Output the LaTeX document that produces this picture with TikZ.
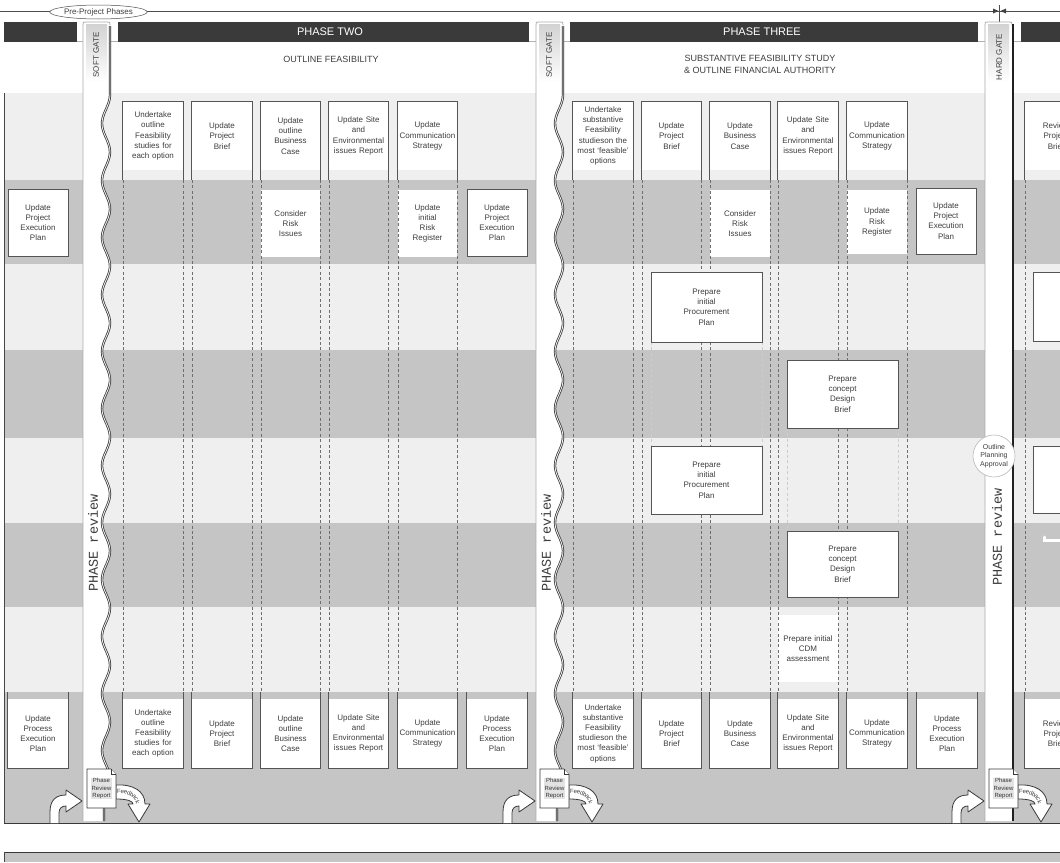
\documentclass[tikz,border=0pt]{standalone}
\usepackage{fontspec}
\setmainfont{Liberation Sans}
\setmonofont{Liberation Mono}
\usetikzlibrary{decorations.text,shapes.geometric}
\definecolor{bandlight}{HTML}{EFEFEF}
\definecolor{banddark}{HTML}{C5C5C5}
\definecolor{hdr}{HTML}{3A3A3A}
\definecolor{boxline}{HTML}{555555}
\definecolor{txt}{HTML}{3E3E3E}
\definecolor{dashc}{HTML}{6E6E6E}
\tikzset{
 bx/.style={fill=white, inner sep=0pt, align=center, text=txt, font=\fontsize{8}{10.2}\selectfont},
 framedbox/.style={bx, draw=boxline, line width=0.9pt},
 boxedge/.style={draw=boxline, line width=0.9pt},
 coldash/.style={draw=dashc, line width=0.7pt, dash pattern=on 3pt off 2.4pt},
 faintdash/.style={draw=gray!40, line width=0.5pt, dash pattern=on 3pt off 2.4pt},
 topline/.style={draw=gray!60!black, line width=0.5pt},
 prephase/.style={ellipse, draw=gray!60!black, line width=0.5pt, fill=white, minimum width=87pt, minimum height=14pt, inner sep=0pt, font=\fontsize{8}{9}\selectfont, text=txt},
 hdrtext/.style={text=white, font=\fontsize{11}{12}\selectfont, inner sep=0pt},
 subtext/.style={text=txt, font=\fontsize{9}{12.5}\selectfont, inner sep=0pt, align=center},
 gateleft/.style={draw=gray!65, line width=0.8pt},
 wavy/.style={draw=gray!35!black, line width=0.7pt, double=gray!15, double distance=0.9pt},
 hardedge/.style={draw=gray!25!black, line width=1.6pt},
 gatelbl/.style={rotate=90, text=txt, font=\fontsize{8}{9}\selectfont, inner sep=0pt},
 reviewlbl/.style={rotate=90, text=txt, font=\ttfamily\fontsize{13.5}{14}\selectfont, inner sep=0pt},
 flowarrow/.style={fill=white, draw=gray!45!black, line width=0.8pt, line join=round},
 docshape/.style={fill=white, draw=gray!45!black, line width=0.6pt},
 doctext/.style={fill=gray!22, text=gray!40!black, inner sep=0.6pt, align=center, font=\fontsize{6}{7.2}\selectfont},
 approval/.style={circle, draw=gray!55, line width=0.6pt, fill=white, minimum size=42pt, inner sep=0pt, align=center, text=txt, font=\fontsize{7}{8.2}\selectfont},
}
\newcommand{\mkbox}[7]{%
 \pgfmathsetmacro{\mybw}{#5-#3}%
 \pgfmathsetmacro{\mybh}{#6-#4}%
 \node[#1, minimum width=\mybw pt, minimum height=\mybh pt, text width=\mybw pt] (#2) at ({(#3+#5)/2},{(#4+#6)/2}) {#7};}
\newcommand{\topbox}[6]{%
 \mkbox{bx}{#1}{#2}{#3}{#4}{#5}{#6}%
 \draw[boxedge] ([yshift=-10pt]#1.south west) -- (#1.north west) -- (#1.north east) -- ([yshift=-10pt]#1.south east);}
\newcommand{\botbox}[6]{%
 \mkbox{bx}{#1}{#2}{#3}{#4}{#5}{#6}%
 \draw[boxedge] ([yshift=7pt]#1.north west) -- (#1.south west) -- (#1.south east) -- ([yshift=7pt]#1.north east);}
\newcommand{\gatefoot}[2]{%
 \draw[flowarrow] ({#1-33},823) -- ({#1-33},812) .. controls ({#1-33},800) and ({#1-27},795) .. ({#1-17},795) -- ({#1-17},790) -- ({#1-1},801) -- ({#1-17},812) -- ({#1-17},806) .. controls ({#1-21},806) and ({#1-24},808) .. ({#1-24},813) -- ({#1-24},823);
 \draw[flowarrow] ({#1+33},785) .. controls ({#1+50},784) and ({#1+62},791) .. ({#1+62},804) -- ({#1+67},804) -- ({#1+56},822) -- ({#1+45},804) -- ({#1+50},804) .. controls ({#1+50},801) and ({#1+44},799) .. ({#1+33},799) -- cycle;
 \path[decorate, decoration={text along path, text={|\fontsize{6}{6}\selectfont|Feedback}, text color=txt, text align=left, raise=-2pt}] ({#1+34},792) .. controls ({#1+48},791) and ({#1+56},796) .. ({#1+56},812);
 \draw[docshape] ({#1+4},769) -- ({#1+28},769) -- ({#1+33},774) -- ({#1+33},808) -- ({#1+4},808) -- cycle;
 \draw[docshape] ({#1+28},769) -- ({#1+28},774) -- ({#1+33},774);
 \node[doctext] (#2doc) at ({#1+18.5},788.5) {Phase\\Review\\Report};
}
\newcommand{\softgate}[2]{%
 \fill[white] ({#1},821) -- ({#1},25) .. controls ({#1},22) .. ({#1+3},22) -- ({#1+24},22) .. controls ({#1+27},22) .. ({#1+27},25) -- ({#1+27},95) -- plot[domain=95:780, samples=180, variable=\t] ({#1+23+4*cos(6.315789*(\t-95))},{\t}) -- ({#1+21},790) -- ({#1+21},821) -- cycle;
 \shade[top color=gray!35, bottom color=white] ({#1+3},24) rectangle ({#1+24},82);
 \draw[gateleft] ({#1},821) -- ({#1},25) .. controls ({#1},22) .. ({#1+3},22) -- ({#1+24},22) .. controls ({#1+27},22) .. ({#1+27},25);
 \draw[wavy] ({#1+27},26) -- ({#1+27},95) -- plot[domain=95:780, samples=180, variable=\t] ({#1+23+4*cos(6.315789*(\t-95))},{\t}) -- ({#1+21},790) -- ({#1+21},821);
 \node[gatelbl] (#2lbl) at ({#1+13},55) {SOFT GATE};
 \node[reviewlbl] (#2rev) at ({#1+10},543) {PHASE review};
 \gatefoot{#1}{#2}
}
\newcommand{\hardgate}[2]{%
 \fill[white] ({#1},821) -- ({#1},25) .. controls ({#1},22) .. ({#1+3},22) -- ({#1+24},22) .. controls ({#1+27},22) .. ({#1+27},25) -- ({#1+27},821) -- cycle;
 \shade[top color=gray!35, bottom color=white] ({#1+3},24) rectangle ({#1+24},82);
 \draw[gateleft] ({#1},821) -- ({#1},25) .. controls ({#1},22) .. ({#1+3},22) -- ({#1+24},22) .. controls ({#1+27},22) .. ({#1+27},25);
 \draw[hardedge] ({#1+27.8},24) -- ({#1+27.8},821);
 \node[gatelbl] (#2lbl) at ({#1+14},57) {HARD GATE};
 \node[reviewlbl] (#2rev) at ({#1+12},537) {PHASE review};
 \gatefoot{#1}{#2}
}
\begin{document}
\begin{tikzpicture}[x=1pt,y=-1pt]
\useasboundingbox (0,0) rectangle (1060,862);
\clip (0,0) rectangle (1060,862);
\fill[white] (0,0) rectangle (1060,862);
% top line
\draw[topline] (0,11) -- (1060,11);
\node[prephase] (pre) at (98.5,12) {Pre-Project Phases};
\draw[topline] (999.5,5) -- (999.5,22);
\fill[gray!50!black] (993,8.5) -- (998.5,11) -- (993,13.5) -- cycle;
\fill[gray!50!black] (1006,8.5) -- (1000.5,11) -- (1006,13.5) -- cycle;
% header bars
\fill[hdr] (4,22) rectangle (77,42);
\fill[hdr] (118,22) rectangle (529,42);
\fill[hdr] (570,22) rectangle (978,42);
\fill[hdr] (1021,22) rectangle (1060,42);
\draw[gray!60, line width=0.6pt] (77,41.5) -- (83,41.5) (110,41.5) -- (118,41.5) (529,41.5) -- (536,41.5) (563,41.5) -- (570,41.5) (978,41.5) -- (985,41.5) (1012,41.5) -- (1021,41.5);
\node[hdrtext] (p2) at (330,32) {PHASE TWO};
\node[hdrtext] (p3) at (762,32) {PHASE THREE};
\node[subtext] (p2sub) at (331,59) {OUTLINE FEASIBILITY};
\node[subtext] (p3sub) at (760,64.5) {SUBSTANTIVE FEASIBILITY STUDY\\\& OUTLINE FINANCIAL AUTHORITY};
% bands
\fill[bandlight] (4,93) rectangle (1060,180);
\fill[banddark] (4,180) rectangle (1060,264);
\fill[bandlight] (4,264) rectangle (1060,350);
\fill[banddark] (4,350) rectangle (1060,438);
\fill[bandlight] (4,438) rectangle (1060,523);
\fill[banddark] (4,523) rectangle (1060,607);
\fill[bandlight] (4,607) rectangle (1060,692);
\fill[banddark] (4,692) rectangle (1060,823);
\draw[gray!55!black, line width=0.8pt] (4.5,93) -- (4.5,823);
\draw[gray!45!black, line width=0.8pt] (4,823) -- (1060,823);
\fill[banddark] (4,852) rectangle (1060,862);
\draw[gray!45!black, line width=0.8pt] (4,852) -- (1060,852);
\draw[gray!55!black, line width=0.8pt] (4.5,852) -- (4.5,862);
% borderless boxes
\mkbox{bx}{a3r}{261}{190}{320}{257}{Consider\\Risk\\Issues}
\mkbox{bx}{a5r}{398}{190}{457}{257}{Update\\initial\\Risk\\Register}
\mkbox{bx}{b3r}{710}{190}{770}{257}{Consider\\Risk\\Issues}
\mkbox{bx}{b5r}{847}{190}{907}{254}{Update\\Risk\\Register}
\mkbox{bx}{cdm}{778}{615}{838}{682}{Prepare initial\\CDM\\assessment}
% dashed column lines
\foreach \xx in {123,183,192,252,261,320,329,388,398,457,573,633,642,701,710,770,778,838,847,907,1025}
 \draw[coldash] (\xx,180) -- (\xx,692);
\draw[faintdash] (651,342) -- (651,446) (762,342) -- (762,446) (787,428) -- (787,531) (898,428) -- (898,531);
% row 1
\topbox{a1}{123}{102}{183}{170}{Undertake\\outline\\Feasibility\\studies for\\each option}
\topbox{a2}{192}{102}{252}{170}{Update\\Project\\Brief}
\topbox{a3}{261}{102}{320}{170}{Update\\outline\\Business\\Case}
\topbox{a4}{329}{102}{388}{170}{Update Site\\and\\Environmental\\issues Report}
\topbox{a5}{398}{102}{457}{170}{Update\\Communication\\Strategy}
\topbox{b1}{573}{102}{633}{170}{Undertake\\substantive\\Feasibility\\studieson the\\most `feasible'\\options}
\topbox{b2}{642}{102}{701}{170}{Update\\Project\\Brief}
\topbox{b3}{710}{102}{770}{170}{Update\\Business\\Case}
\topbox{b4}{778}{102}{838}{170}{Update Site\\and\\Environmental\\issues Report}
\topbox{b5}{847}{102}{907}{170}{Update\\Communication\\Strategy}
\topbox{c1}{1025}{102}{1087}{170}{Review\\Project\\Brief}
% row 2 framed
\mkbox{framedbox}{l2}{8}{189}{68}{256}{Update\\Project\\Execution\\Plan}
\mkbox{framedbox}{a6r}{467}{189}{527}{256}{Update\\Project\\Execution\\Plan}
\mkbox{framedbox}{b6r}{916}{188}{976}{254}{Update\\Project\\Execution\\Plan}
% rows 3-6
\mkbox{framedbox}{pp1}{651}{272}{762}{342}{Prepare\\initial\\Procurement\\Plan}
\mkbox{framedbox}{cd1}{787}{360}{898}{428}{Prepare\\concept\\Design\\Brief}
\mkbox{framedbox}{pp2}{651}{446}{762}{514}{Prepare\\initial\\Procurement\\Plan}
\mkbox{framedbox}{cd2}{787}{531}{898}{597}{Prepare\\concept\\Design\\Brief}
\mkbox{framedbox}{c3}{1033}{272}{1100}{341}{}
\mkbox{framedbox}{c5}{1033}{446}{1100}{513}{}
\draw[white, line width=3pt, line cap=round] (1044,537) -- (1044,540.5) -- (1060,540.5);
% bottom row
\botbox{l9}{8}{699}{68}{768}{Update\\Process\\Execution\\Plan}
\botbox{a1b}{123}{699}{183}{768}{Undertake\\outline\\Feasibility\\studies for\\each option}
\botbox{a2b}{192}{699}{252}{768}{Update\\Project\\Brief}
\botbox{a3b}{261}{699}{320}{768}{Update\\outline\\Business\\Case}
\botbox{a4b}{329}{699}{388}{768}{Update Site\\and\\Environmental\\issues Report}
\botbox{a5b}{398}{699}{457}{768}{Update\\Communication\\Strategy}
\botbox{a6b}{467}{699}{527}{768}{Update\\Process\\Execution\\Plan}
\botbox{b1b}{573}{699}{633}{768}{Undertake\\substantive\\Feasibility\\studieson the\\most `feasible'\\options}
\botbox{b2b}{642}{699}{701}{768}{Update\\Project\\Brief}
\botbox{b3b}{710}{699}{770}{768}{Update\\Business\\Case}
\botbox{b4b}{778}{699}{838}{768}{Update Site\\and\\Environmental\\issues Report}
\botbox{b5b}{847}{699}{907}{768}{Update\\Communication\\Strategy}
\botbox{b6b}{917}{699}{977}{768}{Update\\Process\\Execution\\Plan}
\botbox{c9}{1025}{699}{1087}{768}{Review\\Project\\Brief}
% gates
\softgate{83}{sg1}
\softgate{536}{sg2}
\hardgate{985}{hg}
\node[approval] (opa) at (994,456) {Outline\\Planning\\Approval};
\end{tikzpicture}
\end{document}
